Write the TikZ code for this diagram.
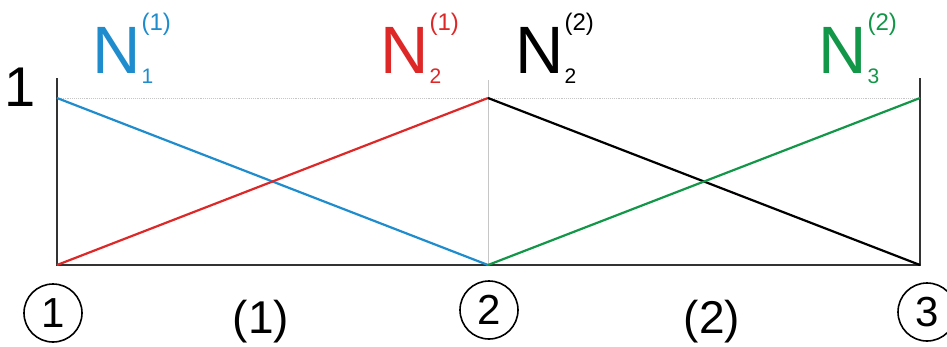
\documentclass[tikz,border=0pt]{standalone}
\usepackage{fontspec}
\setmainfont{Liberation Sans}
\usetikzlibrary{positioning}
\definecolor{nblue}{RGB}{30,140,205}
\definecolor{nred}{RGB}{222,40,40}
\definecolor{ngreen}{RGB}{18,150,72}
\newcommand{\shapefun}[2]{{\fontsize{67}{67}\selectfont N}\kern1pt\rlap{\fontsize{21}{21}\selectfont\raisebox{-10pt}{#1}}{\fontsize{24}{24}\selectfont\raisebox{43pt}{(#2)}}}

\begin{document}
\begin{tikzpicture}[x=1pt, y=-1pt,
  axis/.style={line width=1.8pt, black!80},
  guide/.style={line width=0.9pt, gray!45},
  fn/.style={line width=2.2pt},
  lbl/.style={inner sep=0pt, anchor=base west},
  nodenum/.style={circle, draw, line width=1.6pt, minimum size=58pt, inner sep=0pt, font=\fontsize{42}{42}\selectfont},
  elemnum/.style={inner sep=0pt, anchor=base, font=\fontsize{46}{46}\selectfont}
]
\useasboundingbox (0,0) rectangle (947,346);

% Nodal points
\coordinate (b1) at (57,265);
\coordinate (t1) at (57,98);
\coordinate (b2) at (488,265);
\coordinate (t2) at (488,98);
\coordinate (b3) at (920,265);
\coordinate (t3) at (920,98);
\coordinate (e1) at (57,78);
\coordinate (e2) at (488,80);
\coordinate (e3) at (920,78);

% Axes and guides
\draw[guide, densely dotted] (t1) -- (t3);
\draw[guide] (e2) -- (b2);
\draw[axis] (e1) -- (b1) -- (b3) -- (e3);

% Shape functions
\draw[fn, nblue] (t1) -- (b2);
\draw[fn, nred] (b1) -- (t2);
\draw[fn, black] (t2) -- (b3);
\draw[fn, ngreen] (b2) -- (t3);

% Labels
\node[lbl, nblue] (n11) at (92,73) {\shapefun{1}{1}};
\node[lbl, nred] (n21) at (380,73) {\shapefun{2}{1}};
\node[lbl] (n22) at (515,73) {\shapefun{2}{2}};
\node[lbl, ngreen] (n32) at (818,73) {\shapefun{3}{2}};
\node[anchor=base, inner sep=0pt, font=\fontsize{56}{56}\selectfont] (one) at (20,106) {1};

% Node and element numbers
\node[nodenum] (c1) at (53,313) {1};
\node[nodenum] (c2) at (489,310) {2};
\node[nodenum] (c3) at (927,312) {3};
\node[elemnum] (el1) at (261,333) {(1)};
\node[elemnum] (el2) at (712,333) {(2)};

\end{tikzpicture}
\end{document}
